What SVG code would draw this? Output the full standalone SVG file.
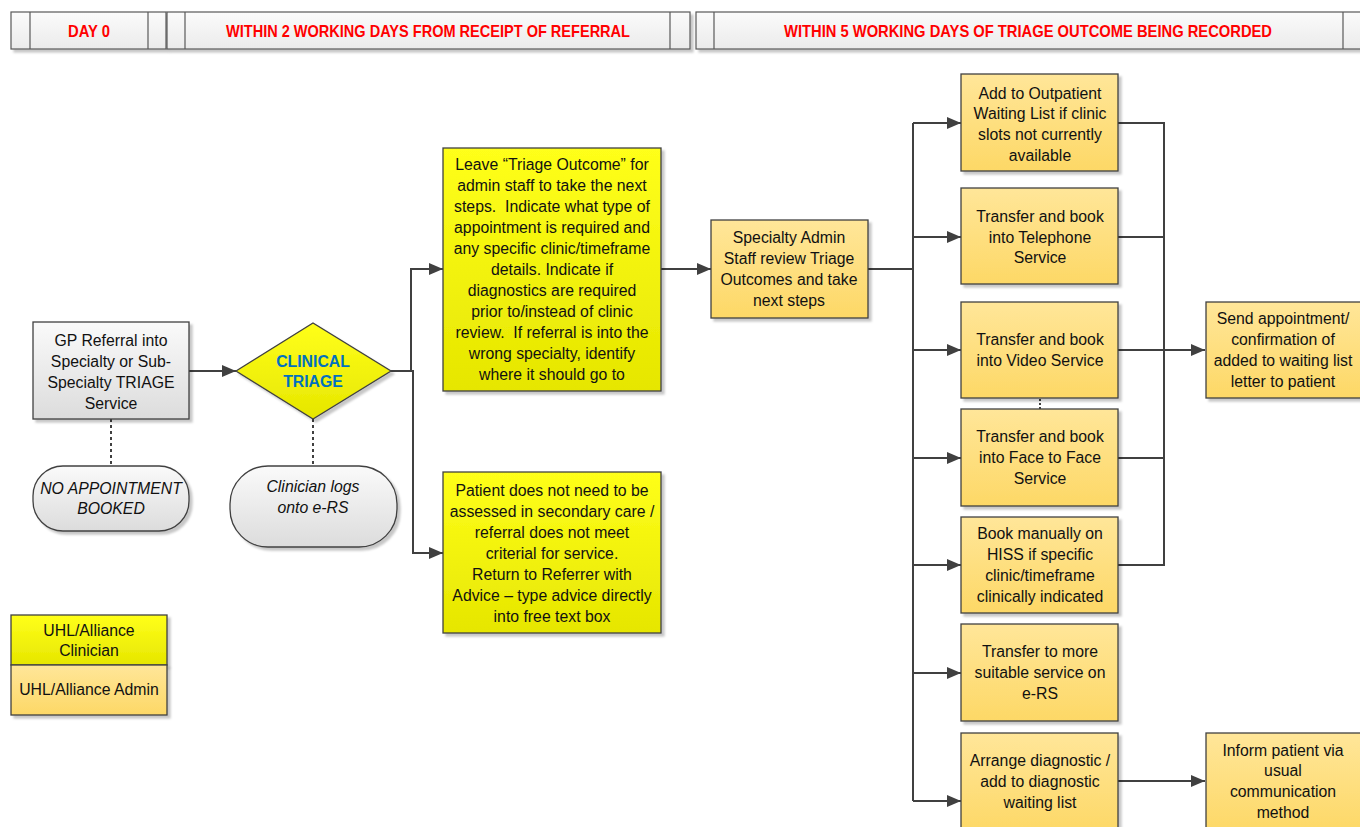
<svg xmlns="http://www.w3.org/2000/svg" width="1360" height="827" viewBox="0 0 1360 827">
<defs>
<linearGradient id="gY" x1="0" y1="0" x2="0" y2="1"><stop offset="0" stop-color="#ffff1a"/><stop offset="1" stop-color="#e6e600"/></linearGradient>
<linearGradient id="gO" x1="0" y1="0" x2="0" y2="1"><stop offset="0" stop-color="#ffe699"/><stop offset="1" stop-color="#fdd866"/></linearGradient>
<linearGradient id="gG" x1="0" y1="0" x2="0" y2="1"><stop offset="0" stop-color="#fafafa"/><stop offset="1" stop-color="#dcdcdc"/></linearGradient>
<linearGradient id="gH" x1="0" y1="0" x2="0" y2="1"><stop offset="0" stop-color="#fbfbfb"/><stop offset="1" stop-color="#ebebeb"/></linearGradient>
<filter id="sh" x="-10%" y="-10%" width="130%" height="130%"><feDropShadow dx="3" dy="3" stdDeviation="1.2" flood-color="#000" flood-opacity="0.22"/></filter>
<marker id="arr" viewBox="0 0 14 12" refX="14" refY="6" markerWidth="14" markerHeight="12" markerUnits="userSpaceOnUse" orient="auto"><path d="M0,0 L14,6 L0,12 Z" fill="#404040"/></marker>
</defs>
<style>
.t{font-family:"Liberation Sans",Arial,sans-serif;font-size:15.8px;fill:#111;text-anchor:middle;white-space:pre}
.i{font-style:italic}
.h{font-family:"Liberation Sans",Arial,sans-serif;font-size:16.5px;font-weight:bold;fill:#ff0000;text-anchor:middle}
.b{stroke:#404040;stroke-width:1.3;filter:url(#sh)}
.y{fill:url(#gY)}
.o{fill:url(#gO)}
.g{fill:url(#gG)}
.hd{fill:url(#gH);stroke:#595959;stroke-width:1.2;filter:url(#sh)}
.ln{stroke:#595959;stroke-width:1.2}
.c{fill:none;stroke:#404040;stroke-width:2}
.a{marker-end:url(#arr)}
.d{fill:none;stroke:#404040;stroke-width:2;stroke-dasharray:3,3}
</style>

<g id="header">
<rect class="hd" x="11" y="12" width="155" height="37"/>
<line class="ln" x1="30" y1="12" x2="30" y2="49"/><line class="ln" x1="148" y1="12" x2="148" y2="49"/>
<text class="h" x="89" y="37" textLength="42" lengthAdjust="spacingAndGlyphs">DAY 0</text>
<rect class="hd" x="167" y="12" width="523" height="37"/>
<line class="ln" x1="185" y1="12" x2="185" y2="49"/><line class="ln" x1="670" y1="12" x2="670" y2="49"/>
<text class="h" x="428" y="37" textLength="404" lengthAdjust="spacingAndGlyphs">WITHIN 2 WORKING DAYS FROM RECEIPT OF REFERRAL</text>
<rect class="hd" x="696" y="12" width="670" height="37"/>
<line class="ln" x1="714" y1="12" x2="714" y2="49"/><line class="ln" x1="1343" y1="12" x2="1343" y2="49"/>
<text class="h" x="1028" y="37" textLength="488" lengthAdjust="spacingAndGlyphs">WITHIN 5 WORKING DAYS OF TRIAGE OUTCOME BEING RECORDED</text>
</g>

<g id="connectors">
<line class="d" x1="111" y1="419" x2="111" y2="466"/>
<line class="d" x1="313" y1="419" x2="313" y2="466"/>
<line class="c" x1="1040" y1="399" x2="1040" y2="409" stroke-dasharray="2,2" stroke-width="1.5"/>
<line class="c a" x1="189" y1="371" x2="236" y2="371"/>
<path class="c a" d="M391,371 H411 V269 H443"/>
<path class="c a" d="M391,371 H413 V553 H443"/>
<line class="c a" x1="661" y1="269" x2="711" y2="269"/>
<path class="c" d="M868,269 H913"/>
<path class="c" d="M913,123 V801"/>
<line class="c a" x1="913" y1="123" x2="961" y2="123"/>
<line class="c a" x1="913" y1="237" x2="961" y2="237"/>
<line class="c a" x1="913" y1="350" x2="961" y2="350"/>
<line class="c a" x1="913" y1="458" x2="961" y2="458"/>
<line class="c a" x1="913" y1="565" x2="961" y2="565"/>
<line class="c a" x1="913" y1="673" x2="961" y2="673"/>
<line class="c a" x1="913" y1="801" x2="961" y2="801"/>
<path class="c" d="M1118,123 H1164 V565 H1118"/>
<path class="c" d="M1118,237 H1164"/>
<path class="c" d="M1118,458 H1164"/>
<line class="c a" x1="1118" y1="350" x2="1205" y2="350"/>
<line class="c a" x1="1118" y1="781" x2="1205" y2="781"/>
</g>

<g id="gp-referral">
<rect class="b g" x="33" y="322" width="156" height="97"/>
<text class="t" x="111" y="346">GP Referral into</text>
<text class="t" x="111" y="367">Specialty or Sub-</text>
<text class="t" x="111" y="388">Specialty TRIAGE</text>
<text class="t" x="111" y="409">Service</text>
</g>

<g id="no-appointment">
<rect class="b g" x="33" y="466" width="156" height="65" rx="30"/>
<text class="t i" x="111" y="494">NO APPOINTMENT</text>
<text class="t i" x="111" y="514">BOOKED</text>
</g>

<g id="clinical-triage">
<path class="b y" d="M236,371 L313,323 L391,371 L313,419 Z"/>
<text class="t" x="313" y="367" style="fill:#0070c0;font-weight:bold">CLINICAL</text>
<text class="t" x="313" y="387" style="fill:#0070c0;font-weight:bold">TRIAGE</text>
</g>

<g id="clinician-logs">
<rect class="b g" x="230" y="466" width="167" height="81" rx="38"/>
<text class="t i" x="313" y="492">Clinician logs</text>
<text class="t i" x="313" y="513">onto e-RS</text>
</g>

<g id="leave-triage-outcome">
<rect class="b y" x="443" y="148" width="218" height="243"/>
<text class="t" x="552" y="170">Leave “Triage Outcome” for</text>
<text class="t" x="552" y="191">admin staff to take the next</text>
<text class="t" x="552" y="212">steps.  Indicate what type of</text>
<text class="t" x="552" y="233">appointment is required and</text>
<text class="t" x="552" y="254">any specific clinic/timeframe</text>
<text class="t" x="552" y="275">details. Indicate if</text>
<text class="t" x="552" y="296">diagnostics are required</text>
<text class="t" x="552" y="317">prior to/instead of clinic</text>
<text class="t" x="552" y="338">review.  If referral is into the</text>
<text class="t" x="552" y="359">wrong specialty, identify</text>
<text class="t" x="552" y="380">where it should go to</text>
</g>

<g id="return-to-referrer">
<rect class="b y" x="443" y="472" width="218" height="161"/>
<text class="t" x="552" y="496">Patient does not need to be</text>
<text class="t" x="552" y="517">assessed in secondary care /</text>
<text class="t" x="552" y="538">referral does not meet</text>
<text class="t" x="552" y="559">criterial for service.</text>
<text class="t" x="552" y="580">Return to Referrer with</text>
<text class="t" x="552" y="601">Advice – type advice directly</text>
<text class="t" x="552" y="622">into free text box</text>
</g>

<g id="specialty-admin">
<rect class="b o" x="711" y="220" width="157" height="98"/>
<text class="t" x="789" y="243">Specialty Admin</text>
<text class="t" x="789" y="264">Staff review Triage</text>
<text class="t" x="789" y="285">Outcomes and take</text>
<text class="t" x="789" y="306">next steps</text>
</g>

<g id="outpatient-waiting-list">
<rect class="b o" x="961" y="74" width="157" height="97"/>
<text class="t" x="1040" y="99">Add to Outpatient</text>
<text class="t" x="1040" y="119">Waiting List if clinic</text>
<text class="t" x="1040" y="140">slots not currently</text>
<text class="t" x="1040" y="161">available</text>
</g>

<g id="telephone-service">
<rect class="b o" x="961" y="188" width="157" height="96"/>
<text class="t" x="1040" y="222">Transfer and book</text>
<text class="t" x="1040" y="243">into Telephone</text>
<text class="t" x="1040" y="263">Service</text>
</g>

<g id="video-service">
<rect class="b o" x="961" y="302" width="157" height="96"/>
<text class="t" x="1040" y="345">Transfer and book</text>
<text class="t" x="1040" y="366">into Video Service</text>
</g>

<g id="face-to-face">
<rect class="b o" x="961" y="409" width="157" height="97"/>
<text class="t" x="1040" y="442">Transfer and book</text>
<text class="t" x="1040" y="463">into Face to Face</text>
<text class="t" x="1040" y="484">Service</text>
</g>

<g id="book-manually">
<rect class="b o" x="961" y="517" width="157" height="96"/>
<text class="t" x="1040" y="539">Book manually on</text>
<text class="t" x="1040" y="560">HISS if specific</text>
<text class="t" x="1040" y="581">clinic/timeframe</text>
<text class="t" x="1040" y="602">clinically indicated</text>
</g>

<g id="transfer-suitable">
<rect class="b o" x="961" y="624" width="157" height="97"/>
<text class="t" x="1040" y="657">Transfer to more</text>
<text class="t" x="1040" y="678">suitable service on</text>
<text class="t" x="1040" y="699">e-RS</text>
</g>

<g id="arrange-diagnostic">
<rect class="b o" x="961" y="733" width="157" height="100"/>
<text class="t" x="1040" y="766">Arrange diagnostic /</text>
<text class="t" x="1040" y="787">add to diagnostic</text>
<text class="t" x="1040" y="808">waiting list</text>
</g>

<g id="send-appointment">
<rect class="b o" x="1206" y="302" width="160" height="96"/>
<text class="t" x="1283" y="324">Send appointment/</text>
<text class="t" x="1283" y="345">confirmation of</text>
<text class="t" x="1283" y="366">added to waiting list</text>
<text class="t" x="1283" y="387">letter to patient</text>
</g>

<g id="inform-patient">
<rect class="b o" x="1206" y="733" width="160" height="100"/>
<text class="t" x="1283" y="756">Inform patient via</text>
<text class="t" x="1283" y="776">usual</text>
<text class="t" x="1283" y="797">communication</text>
<text class="t" x="1283" y="818">method</text>
</g>

<g id="legend">
<rect class="b y" x="11" y="615" width="156" height="50"/>
<rect class="b o" x="11" y="665" width="156" height="50"/>
<text class="t" x="89" y="636">UHL/Alliance</text>
<text class="t" x="89" y="656">Clinician</text>
<text class="t" x="89" y="695">UHL/Alliance Admin</text>
</g>
</svg>
